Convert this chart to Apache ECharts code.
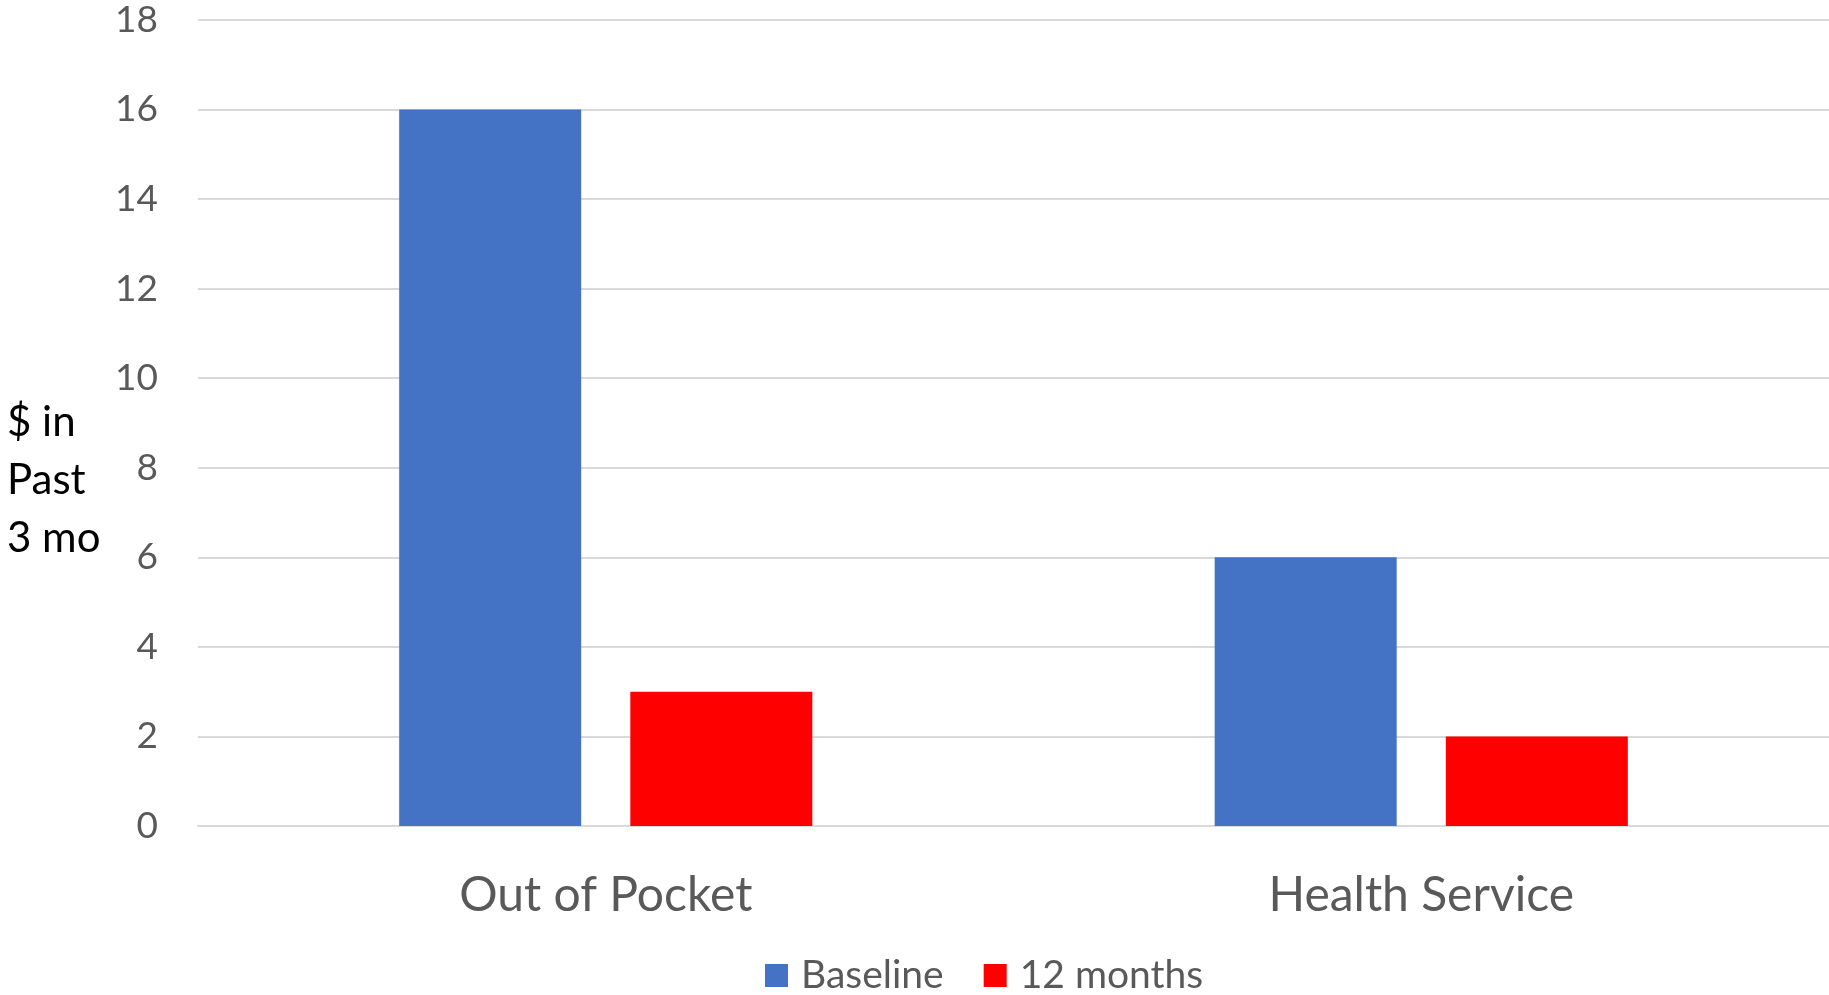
<!DOCTYPE html>
<html>
<head>
<meta charset="utf-8">
<script src="https://cdn.jsdelivr.net/npm/echarts@6/dist/echarts.min.js"></script>
<style>
  html, body { margin: 0; padding: 0; background: #fff; }
  #main { width: 1829px; height: 995px; }
</style>
</head>
<body>
<div id="main"></div>
<script>
// 数据
var categories = ['Out of Pocket', 'Health Service'];
var seriesNames = ['Baseline', '12 months'];
var baselineVals = [16, 6];
var monthsVals = [3, 2];
var colors = ['#4472c4', '#ff0000'];

var chart = echarts.init(document.getElementById('main'));

var opt = {
    animation: false,
    textStyle: { fontFamily: 'Lato' },
    grid: { left: 198, right: 0, top: 20, bottom: 169 },
    legend: {
        left: 765,
        top: 956,
        padding: 0,
        itemWidth: 23,
        itemHeight: 23,
        itemGap: 40,
        icon: 'rect',
        data: seriesNames,
        textStyle: { fontSize: 39, color: '#595959', fontFamily: 'Lato', padding: [0, 0, 0, 8] }
    },
    xAxis: {
        type: 'category',
        data: categories,
        axisLine: { show: true, lineStyle: { color: '#d9d9d9', width: 2 } },
        axisTick: { show: false },
        axisLabel: { fontSize: 48, color: '#595959', margin: 46, fontFamily: 'Lato' }
    },
    yAxis: {
        type: 'value',
        min: 0,
        max: 18,
        interval: 2,
        axisLine: { show: false },
        axisTick: { show: false },
        axisLabel: { fontSize: 37, color: '#595959', margin: 40, fontFamily: 'Lato' },
        splitLine: { lineStyle: { color: '#d9d9d9', width: 2 } }
    },
    graphic: [{
        type: 'text',
        left: 7,
        top: 393,
        style: {
            text: '$ in\nPast\n3 mo',
            fontSize: 42,
            lineHeight: 58,
            fill: '#000',
            fontFamily: 'Lato',
            textAlign: 'left'
        }
    }],
    series: [{
        name: seriesNames[0],
        type: 'bar',
        data: baselineVals,
        barWidth: 182,
        barGap: '27%',
        itemStyle: { color: colors[0] }
    }, {
        name: seriesNames[1],
        type: 'bar',
        data: monthsVals,
        barWidth: 182,
        itemStyle: { color: colors[1] }
    }]
};

chart.setOption(opt);
</script>
</body>
</html>
